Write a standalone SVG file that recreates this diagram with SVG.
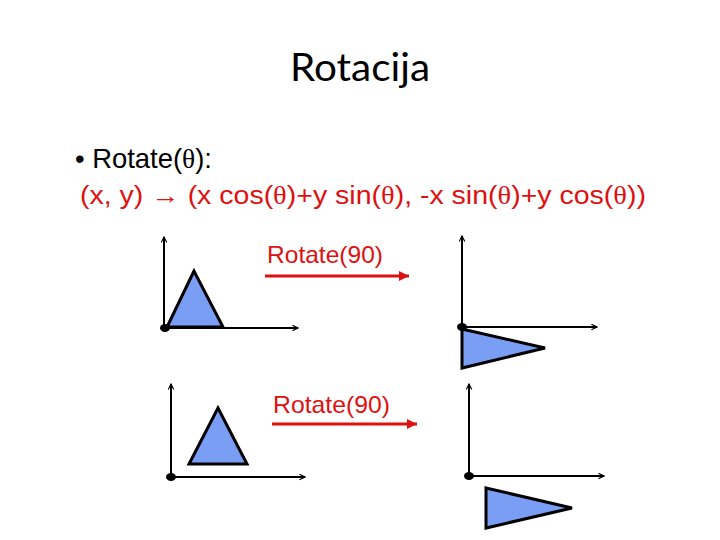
<svg xmlns="http://www.w3.org/2000/svg" width="720" height="540" viewBox="0 0 720 540">
<style>
.title{font-family:"Lato","Open Sans",sans-serif;font-size:38px;fill:#000}
.sans{font-family:"Liberation Sans",Arial,sans-serif}
.serif{font-family:"Liberation Serif","Times New Roman",serif}
.lbl{font-family:"Liberation Sans",Arial,sans-serif;font-size:24px;fill:#e01010}
.axis{stroke:#000;stroke-width:2;fill:none}
.tri{fill:#7b9ef5;stroke:#000;stroke-width:3;stroke-linejoin:miter}
.red{stroke:#e01010;stroke-width:3;fill:none}
</style>
<defs>
<marker id="ah" viewBox="0 0 10 10" refX="9" refY="5" markerWidth="7" markerHeight="7" markerUnits="userSpaceOnUse" orient="auto">
<path d="M1,1 L9,5 L1,9" fill="none" stroke="#000" stroke-width="1.6"/>
</marker>
<marker id="rh" viewBox="0 0 10 10" refX="10" refY="5" markerWidth="13" markerHeight="10" markerUnits="userSpaceOnUse" orient="auto">
<path d="M0,0 L10,5 L0,10 Z" fill="#e01010"/>
</marker>
</defs>
<rect width="720" height="540" fill="#fff"/>
<text class="title" x="360" y="81" text-anchor="middle" textLength="140" lengthAdjust="spacingAndGlyphs">Rotacija</text>
<text x="75" y="168" font-size="28" fill="#000" class="sans" textLength="137" lengthAdjust="spacingAndGlyphs">• Rotate(<tspan class="serif">θ</tspan>):</text>
<text x="80" y="204" font-size="25" fill="#e01010" class="sans" textLength="566" lengthAdjust="spacingAndGlyphs">(x, y) → (x cos(<tspan class="serif">θ</tspan>)+y sin(<tspan class="serif">θ</tspan>), -x sin(<tspan class="serif">θ</tspan>)+y cos(<tspan class="serif">θ</tspan>))</text>

<g id="panel1">
<line class="axis" x1="164" y1="328" x2="164" y2="237" marker-end="url(#ah)"/>
<line class="axis" x1="164" y1="328" x2="298" y2="328" marker-end="url(#ah)"/>
<polygon class="tri" points="194,271 167,327 223,327"/>
<ellipse cx="165" cy="328" rx="5" ry="4" fill="#000"/>
</g>
<g id="panel2">
<line class="axis" x1="462" y1="327" x2="462" y2="236" marker-end="url(#ah)"/>
<line class="axis" x1="462" y1="327" x2="597" y2="327" marker-end="url(#ah)"/>
<polygon class="tri" points="462,329 545,348 462,368"/>
<ellipse cx="462" cy="327" rx="5" ry="4" fill="#000"/>
</g>
<g id="panel3">
<line class="axis" x1="171" y1="477" x2="171" y2="384" marker-end="url(#ah)"/>
<line class="axis" x1="171" y1="477" x2="305" y2="477" marker-end="url(#ah)"/>
<polygon class="tri" points="218,408 189,464 247,464"/>
<ellipse cx="171" cy="477" rx="5" ry="4" fill="#000"/>
</g>
<g id="panel4">
<line class="axis" x1="469" y1="476" x2="469" y2="384" marker-end="url(#ah)"/>
<line class="axis" x1="469" y1="476" x2="604" y2="476" marker-end="url(#ah)"/>
<polygon class="tri" points="486,488 572,508 486,528"/>
<ellipse cx="469" cy="476" rx="5" ry="4" fill="#000"/>
</g>
<g id="connectors">
<text class="lbl" x="267" y="263" textLength="116" lengthAdjust="spacingAndGlyphs">Rotate(90)</text>
<line class="red" x1="265" y1="276" x2="409" y2="276" marker-end="url(#rh)"/>
<text class="lbl" x="273" y="413" textLength="117" lengthAdjust="spacingAndGlyphs">Rotate(90)</text>
<line class="red" x1="272" y1="424" x2="417" y2="424" marker-end="url(#rh)"/>
</g>
</svg>
